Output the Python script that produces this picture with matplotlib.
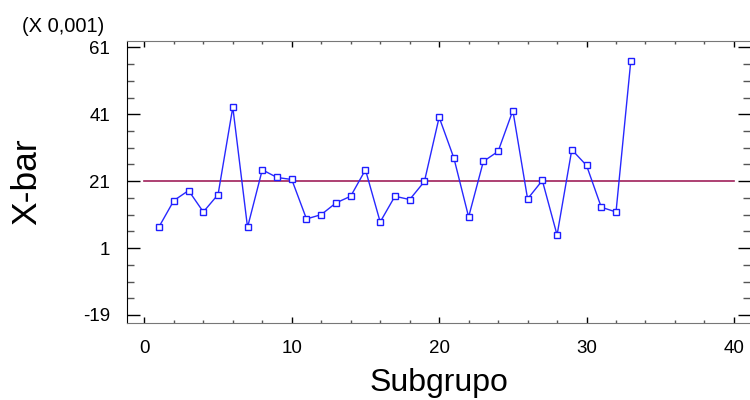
import matplotlib
matplotlib.use("Agg")
import matplotlib.pyplot as plt
from matplotlib.ticker import FixedLocator, MultipleLocator

plt.rcParams["font.family"] = ["Liberation Sans", "DejaVu Sans"]
plt.rcParams["axes.unicode_minus"] = False

# subgroup means (in units of 0.001)
subgroups = list(range(1, 34))
xbar = [7.4, 15.2, 18.2, 11.8, 17.0, 43.1, 7.2, 24.4, 22.1, 21.5,
        9.7, 11.0, 14.5, 16.5, 24.4, 8.8, 16.5, 15.5, 20.9, 40.1,
        27.9, 10.3, 26.9, 29.9, 42.1, 15.7, 21.2, 4.9, 30.4, 25.7,
        13.2, 11.8, 56.8]
center_line = 21.0
y_ticks = [-19, 1, 21, 41, 61]
x_ticks = [0, 10, 20, 30, 40]

fig = plt.figure(figsize=(7.5, 4.0), dpi=100)
ax = fig.add_axes([0.1693, 0.1925, 0.8307, 0.705])

# center line
ax.plot([0, 40], [center_line, center_line], color="#A0205A", linewidth=1.2)

# X-bar series
ax.plot(subgroups, xbar, color="#2828FF", linewidth=1.0,
        marker="s", markersize=4.5, markerfacecolor="white",
        markeredgecolor="#1E1EFF", markeredgewidth=1.0)

ax.set_xlim(-1.18, 41.09)
ax.set_ylim(-21.4, 62.9)

ax.xaxis.set_major_locator(FixedLocator(x_ticks))
ax.xaxis.set_minor_locator(MultipleLocator(2))
ax.yaxis.set_major_locator(FixedLocator(y_ticks))
ax.set_yticks([v for v in range(-19, 62, 5) if v not in y_ticks], minor=True)

ax.tick_params(axis="y", which="major", direction="in", length=9, width=1.0,
               right=True, labelsize=13.5, pad=12)
ax.tick_params(axis="y", which="minor", direction="in", length=5, width=1.0,
               right=True, color="#555555")
ax.tick_params(axis="x", which="major", direction="in", length=4, width=1.0,
               top=True, labelsize=13.5, pad=12)
ax.tick_params(axis="x", which="minor", direction="in", length=2, width=1.0,
               top=True, color="#555555")

for side in ["top", "bottom"]:
    ax.spines[side].set_color("#777777")
ax.spines["left"].set_color("black")
ax.spines["right"].set_visible(False)

ax.set_xlabel("Subgrupo", fontsize=23, labelpad=8)
ax.set_ylabel("X-bar", fontsize=25.5, labelpad=29)

fig.text(22 / 750, 1 - 27 / 400, "(X 0,001)", fontsize=14.5, va="center", ha="left")

fig.savefig("out.png", dpi=100)
